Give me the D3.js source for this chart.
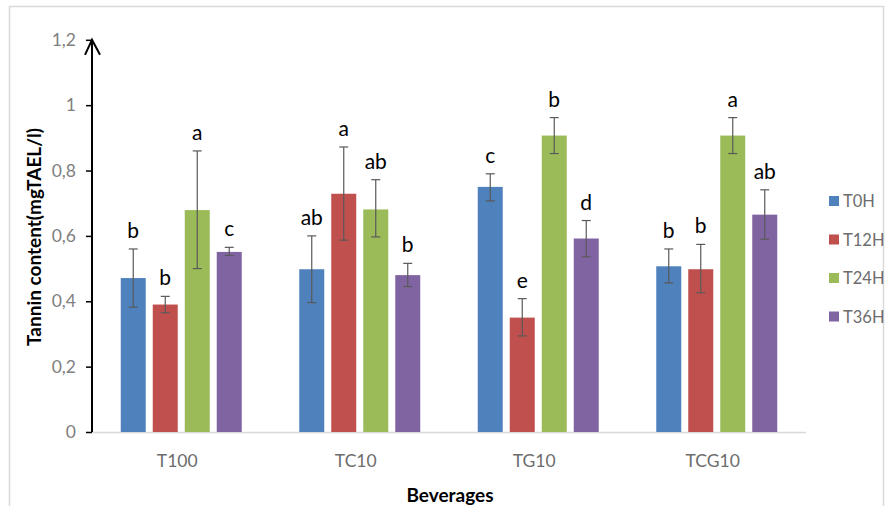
<!DOCTYPE html>
<html><head><meta charset="utf-8">
<script src="https://cdn.jsdelivr.net/npm/d3@7"></script>
<style>body{margin:0;background:#fff}</style>
</head><body>
<svg id="c" width="890" height="506"></svg>
<script>
const categories = ["T100","TC10","TG10","TCG10"];
const series = ["T0H","T12H","T24H","T36H"];
const colors = ["#4f81bd","#c0504d","#9bbb59","#8064a2"];
// values per series, ordered by category
const T0H  = [0.471, 0.498, 0.750, 0.507];
const T12H = [0.390, 0.729, 0.350, 0.498];
const T24H = [0.679, 0.681, 0.907, 0.907];
const T36H = [0.551, 0.480, 0.592, 0.665];
// error bar ends (upper / lower), per series, ordered by category
const errHigh = [[0.560,0.600,0.790,0.560],[0.415,0.872,0.408,0.574],[0.860,0.772,0.962,0.962],[0.565,0.516,0.647,0.741]];
const errLow  = [[0.382,0.396,0.707,0.456],[0.365,0.587,0.294,0.426],[0.500,0.597,0.852,0.852],[0.540,0.445,0.536,0.590]];
const letters = [["b","ab","c","b"],["b","a","e","b"],["a","ab","b","a"],["c","b","d","ab"]];
const yTicks = [0,0.2,0.4,0.6,0.8,1,1.2];
const yTickLabels = ["0","0,2","0,4","0,6","0,8","1","1,2"];
const values = [T0H,T12H,T24H,T36H];

const svg = d3.select("#c");
const font = "Lato, 'Open Sans', sans-serif";
svg.append("rect").attr("x",9.5).attr("y",6.5).attr("width",874).attr("height",510)
  .attr("fill","none").attr("stroke","#d9d9d9").attr("stroke-width",1.5);

const left=92, right=806, bottom=432;
const y = d3.scaleLinear().domain([0,1.2]).range([bottom, bottom-392.2]);
const x0 = d3.scaleBand().domain(categories).range([left,right]).padding(0);
const x1 = d3.scaleBand().domain(series).range([-64,64]).paddingInner(7/32).paddingOuter(3.5/32);

// x axis line
svg.append("line").attr("x1",left).attr("x2",right).attr("y1",bottom+0.5).attr("y2",bottom+0.5)
  .attr("stroke","#d9d9d9").attr("stroke-width",1.5);

// bars
const data = [];
series.forEach((s,si)=>categories.forEach((c,ci)=>data.push({s,si,c,ci,v:values[si][ci],hi:errHigh[si][ci],lo:errLow[si][ci],l:letters[si][ci]})));
const g = svg.append("g");
g.selectAll("rect.bar").data(data).join("rect")
  .attr("x",d=>x0(d.c)+x0.bandwidth()/2+x1(d.s))
  .attr("y",d=>y(d.v)).attr("width",x1.bandwidth()).attr("height",d=>bottom-y(d.v))
  .attr("fill",d=>colors[d.si]);
// error bars
const cx = d=>x0(d.c)+x0.bandwidth()/2+x1(d.s)+x1.bandwidth()/2;
const eb = g.selectAll("g.eb").data(data).join("g").attr("stroke","#595959").attr("stroke-width",1.2);
eb.append("line").attr("x1",cx).attr("x2",cx).attr("y1",d=>y(d.hi)).attr("y2",d=>y(d.lo));
eb.append("line").attr("x1",d=>cx(d)-4.5).attr("x2",d=>cx(d)+4.5).attr("y1",d=>y(d.hi)).attr("y2",d=>y(d.hi));
eb.append("line").attr("x1",d=>cx(d)-4.5).attr("x2",d=>cx(d)+4.5).attr("y1",d=>y(d.lo)).attr("y2",d=>y(d.lo));
// letters
g.selectAll("text.lt").data(data).join("text")
  .attr("x",cx).attr("y",d=>y(d.hi)-11).attr("text-anchor","middle")
  .attr("font-family",font).attr("font-size",21).attr("fill","#000").text(d=>d.l);

// y axis
const yAxis = d3.axisLeft(y).tickValues(yTicks).tickFormat((d,i)=>yTickLabels[i]).tickSize(6).tickPadding(10);
const ya = svg.append("g").attr("transform",`translate(${left},0)`).call(yAxis);
ya.select(".domain").remove();
ya.selectAll(".tick line").attr("stroke","#000").attr("stroke-width",1.5);
ya.selectAll(".tick text").attr("font-family",font).attr("font-size",17.5).attr("fill","#808080");
svg.append("line").attr("x1",left).attr("x2",left).attr("y1",bottom).attr("y2",y(1.2)).attr("stroke","#000").attr("stroke-width",2);
svg.append("path").attr("d",`M${left-7},${y(1.2)+15}L${left},${y(1.2)}L${left+8},${y(1.2)+15}`)
  .attr("fill","none").attr("stroke","#000").attr("stroke-width",2);

// x labels
svg.selectAll("text.xl").data(categories).join("text")
  .attr("x",d=>x0(d)+x0.bandwidth()/2-4).attr("y",467).attr("text-anchor","middle")
  .attr("font-family",font).attr("font-size",17.5).attr("fill","#6d6d6d").text(d=>d);

svg.append("text").attr("x",450).attr("y",502).attr("text-anchor","middle")
  .attr("font-family",font).attr("font-size",19).attr("font-weight","bold").text("Beverages");
svg.append("text").attr("transform","translate(41,237) rotate(-90)").attr("text-anchor","middle")
  .attr("font-family",font).attr("font-size",19).attr("font-weight","bold").text("Tannin content(mgTAEL/l)");

// legend
const lg = svg.selectAll("g.lg").data(series).join("g").attr("transform",(d,i)=>`translate(829,${201+i*38.5})`);
lg.append("rect").attr("x",0).attr("y",-5).attr("width",10).attr("height",10).attr("fill",(d,i)=>colors[i]);
lg.append("text").attr("x",14).attr("y",6).attr("font-family",font).attr("font-size",16.5).attr("fill","#6d6d6d").text(d=>d);
</script>
</body></html>
